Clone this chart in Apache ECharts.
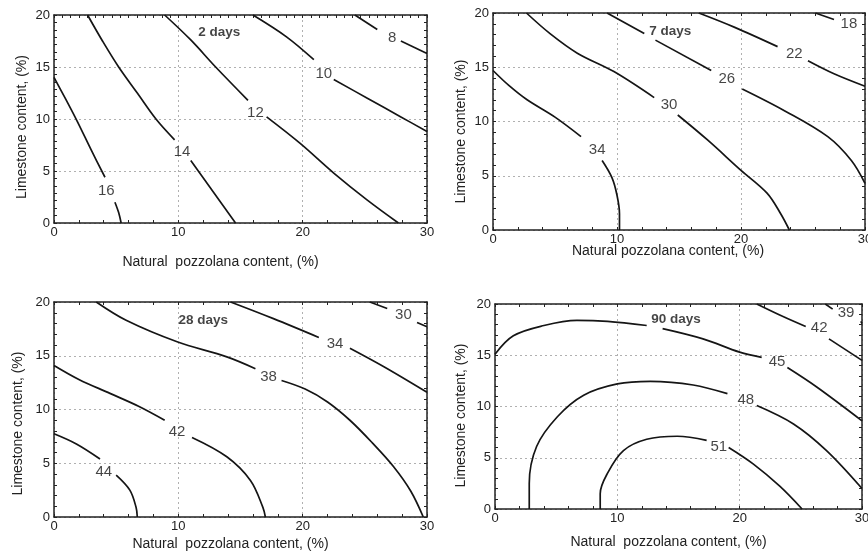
<!DOCTYPE html>
<html>
<head>
<meta charset="utf-8">
<script src="https://cdn.jsdelivr.net/npm/echarts@6/dist/echarts.min.js"></script>
<style>
html, body { margin: 0; padding: 0; background: #fff; }
#chart { width: 868px; height: 554px; }
</style>
</head>
<body>
<div id="chart"></div>
<script>
// axes: x = natural pozzolana content (%), y = limestone content (%)
const xTicks = [0, 10, 20, 30]
const yTicks = [0, 5, 10, 15, 20]
const panelTitles = ['2 days', '7 days', '28 days', '90 days']
const panelTitlePos = [[13.3, 18.3], [14.3, 18.3], [12.0, 18.3], [14.8, 18.5]]

// each contour is a list of pieces, broken where its label sits
const day2Levels = [16, 14, 12, 10, 8]
const day2Lines = [
  [[[0, 14], [0.9, 12], [1.9, 9.7], [3.0, 7.0], [4.1, 4.4]], [[4.9, 2.0], [5.2, 1.0], [5.4, 0]]],
  [[[2.7, 20], [3.9, 17.5], [5.2, 15], [6.7, 12.5], [8.2, 10], [9.7, 8.0]], [[11.0, 6.0], [12.8, 3.0], [14.6, 0]]],
  [[[8.9, 20], [11.0, 17.6], [13.0, 15.0], [15.6, 11.8]], [[17.1, 10.2], [19.8, 7.65], [22.5, 4.8], [25.2, 2.2], [27.7, 0]]],
  [[[16.0, 20], [18.7, 17.9], [20.9, 15.7]], [[22.5, 13.8], [25.2, 12.0], [27.9, 10.2], [30, 8.8]]],
  [[[24.2, 20], [26.0, 18.6]], [[27.9, 17.5], [30, 16.3]]]
]
const day2LabelAt = [[4.2, 3.1], [10.3, 6.8], [16.2, 10.6], [21.7, 14.3], [27.2, 17.8]]

const day7Levels = [34, 30, 26, 22, 18]
const day7Lines = [
  [[[0, 14.7], [1.3, 13.3], [2.75, 12.0], [5.0, 10.4], [7.1, 8.6]], [[8.8, 6.4], [9.6, 4.8], [10.0, 3.2], [10.2, 1.5], [10.2, 0]]],
  [[[2.7, 20], [4.6, 18.1], [6.8, 16.3], [9.75, 14.6], [13.0, 12.2]], [[14.9, 10.6], [17.3, 8.3], [20.0, 5.5], [22.1, 3.4], [23.2, 1.5], [23.9, 0]]],
  [[[9.2, 20], [12.2, 18.1]], [[13.1, 17.5], [17.6, 14.7]], [[20.1, 13.0], [23.5, 11.0], [27.0, 8.6], [28.9, 6.4], [30, 4.3]]],
  [[[16.6, 20], [19.45, 18.7], [22.95, 16.9]], [[25.4, 15.6], [27.5, 14.4], [30, 13.25]]],
  [[[26.0, 20], [27.5, 19.4]]]
]
const day7LabelAt = [[8.4, 7.4], [14.2, 11.5], [18.85, 13.9], [24.3, 16.2], [28.7, 19.0]]

const day28Levels = [44, 42, 38, 34, 30]
const day28Lines = [
  [[[0, 7.75], [1.8, 6.8], [3.7, 5.4]], [[5.0, 3.9], [6.1, 2.5], [6.6, 0.9], [6.7, 0]]],
  [[[0, 14.1], [2.0, 12.8], [4.5, 11.5], [6.8, 10.3], [8.9, 9.0]], [[11.1, 7.4], [13.9, 5.6], [15.8, 3.4], [16.8, 0.9], [17.0, 0]]],
  [[[3.4, 20], [5.8, 18.3], [9.9, 16.3], [13.9, 14.9], [16.2, 13.8]], [[18.3, 12.7], [20.2, 11.9], [22.0, 10.7], [23.8, 9.0], [25.6, 6.9], [27.3, 4.7], [28.7, 2.4], [29.7, 0]]],
  [[[14.2, 20], [17.65, 18.45], [21.3, 16.7]], [[23.8, 15.7], [26.5, 14.0], [30, 11.6]]],
  [[[25.4, 20], [26.8, 19.4]], [[29.2, 18.1], [30, 17.7]]]
]
const day28LabelAt = [[4.0, 4.2], [9.9, 7.9], [17.25, 13.0], [22.6, 16.1], [28.1, 18.85]]

const day90Levels = [51, 48, 45, 42, 39]
const day90Lines = [
  [[[8.6, 0], [8.6, 1.5], [9.2, 3.5], [10.5, 5.7], [12.4, 6.8], [14.9, 7.1], [17.3, 6.7]], [[19.1, 6.0], [21.1, 4.4], [23.3, 2.2], [25.1, 0]]],
  [[[2.8, 0], [2.8, 2.5], [3.4, 6.1], [5.1, 9.0], [7.25, 11.1], [10.0, 12.2], [12.7, 12.45], [16.2, 12.1], [19.0, 11.25]], [[21.4, 10.1], [24.4, 8.3], [27.1, 5.7], [30, 2.0]]],
  [[[0, 15.1], [1.5, 16.9], [4.0, 17.9], [6.7, 18.4], [9.2, 18.3], [12.4, 17.9]], [[13.7, 17.6], [17.0, 16.6], [20.0, 15.3], [21.8, 14.8]], [[23.9, 13.8], [26.3, 11.9], [30, 8.6]]],
  [[[21.4, 20], [23.5, 18.8], [25.4, 17.8]], [[27.3, 16.6], [30, 14.5]]],
  [[[27.0, 20], [27.6, 19.5]], [[29.9, 18.3], [30, 18.1]]]
]
const day90LabelAt = [[18.3, 6.1], [20.5, 10.6], [23.05, 14.4], [26.5, 17.7], [28.7, 19.1]]

const allLevels = [day2Levels, day7Levels, day28Levels, day90Levels]
const allLines = [day2Lines, day7Lines, day28Lines, day90Lines]
const allLabelAt = [day2LabelAt, day7LabelAt, day28LabelAt, day90LabelAt]

// layout of the four panels
const grids = [
  { left: 54, top: 15, width: 373, height: 208 },
  { left: 493, top: 13, width: 372, height: 217 },
  { left: 54, top: 302, width: 373, height: 215 },
  { left: 495, top: 304, width: 367, height: 205 }
]
const xNames = ['Natural  pozzolana content, (%)', 'Natural pozzolana content, (%)',
  'Natural  pozzolana content, (%)', 'Natural  pozzolana content, (%)']
const xNameGap = [32, 14, 20, 26]
const xNameShift = [40, 22, 20, 20]
const yNameGap = [25, 25, 29, 27]
const yNameShift = [16, 20, 28, 18]
const topMinor = [15, 5, 5, 5]
const leftMinor = [7, 5, 5, 5]

const font = 'Liberation Sans, Arial, sans-serif'
const frame = { show: true, onZero: false, lineStyle: { color: '#222', width: 1.5 } }
const dotted = { show: true, lineStyle: { color: '#b0b0b0', width: 1, type: [2, 3] } }

let xAxes = []
let yAxes = []
let series = []

grids.forEach((g, i) => {
  xAxes.push({
    gridIndex: i, type: 'value', position: 'bottom',
    min: xTicks[0], max: xTicks[xTicks.length - 1], interval: xTicks[1] - xTicks[0],
    name: xNames[i], nameLocation: 'middle', nameGap: xNameGap[i], nameMoveOverlap: false,
    nameTextStyle: { fontFamily: font, fontSize: 14, color: '#222', padding: [0, xNameShift[i], 0, 0] },
    axisLine: frame,
    axisTick: { inside: true, length: 3, lineStyle: { color: '#222' } },
    minorTick: { show: true, splitNumber: 5, length: 3, lineStyle: { color: '#222' } },
    splitLine: dotted,
    axisLabel: { fontFamily: font, fontSize: 13, color: '#222', margin: 3 }
  })
  xAxes.push({
    gridIndex: i, type: 'value', position: 'top',
    min: xTicks[0], max: xTicks[xTicks.length - 1], interval: xTicks[1] - xTicks[0],
    axisLine: frame,
    axisTick: { inside: true, length: 3, lineStyle: { color: '#222' } },
    minorTick: { show: true, splitNumber: topMinor[i], length: 3, lineStyle: { color: '#222' } },
    splitLine: { show: false },
    axisLabel: { show: false }
  })
  yAxes.push({
    gridIndex: i, type: 'value', position: 'left',
    min: yTicks[0], max: yTicks[yTicks.length - 1], interval: yTicks[1] - yTicks[0],
    name: 'Limestone content, (%)', nameLocation: 'middle', nameGap: yNameGap[i], nameMoveOverlap: false,
    nameTextStyle: { fontFamily: font, fontSize: 14, color: '#222', padding: [0, yNameShift[i], 0, 0] },
    axisLine: frame,
    axisTick: { inside: true, length: 3, lineStyle: { color: '#222' } },
    minorTick: { show: true, splitNumber: leftMinor[i], length: 3, lineStyle: { color: '#222' } },
    splitLine: dotted,
    axisLabel: { fontFamily: font, fontSize: 13, color: '#222', margin: 4 }
  })
  yAxes.push({
    gridIndex: i, type: 'value', position: 'right',
    min: yTicks[0], max: yTicks[yTicks.length - 1], interval: yTicks[1] - yTicks[0],
    axisLine: frame,
    axisTick: { inside: true, length: 3, lineStyle: { color: '#222' } },
    minorTick: { show: true, splitNumber: leftMinor[i], length: 3, lineStyle: { color: '#222' } },
    splitLine: { show: false },
    axisLabel: { show: false }
  })

  // contour pieces
  allLines[i].forEach(contour => {
    contour.forEach(piece => {
      series.push({
        type: 'line', xAxisIndex: 2 * i, yAxisIndex: 2 * i,
        data: piece, smooth: 0.35,
        showSymbol: false, silent: true,
        lineStyle: { color: '#151515', width: 1.7 }
      })
    })
  })

  // contour value labels
  series.push({
    type: 'scatter', xAxisIndex: 2 * i, yAxisIndex: 2 * i, silent: true,
    symbolSize: 1, itemStyle: { color: 'transparent' },
    data: allLabelAt[i].map((p, k) => [p[0], p[1], allLevels[i][k]]),
    label: {
      show: true, position: 'inside', formatter: p => p.data[2],
      fontFamily: font, fontSize: 15, color: '#151515'
    }
  })
  // panel title
  series.push({
    type: 'scatter', xAxisIndex: 2 * i, yAxisIndex: 2 * i, silent: true,
    symbolSize: 1, itemStyle: { color: 'transparent' },
    data: [[panelTitlePos[i][0], panelTitlePos[i][1], panelTitles[i]]],
    label: {
      show: true, position: 'inside', formatter: p => p.data[2],
      fontFamily: font, fontSize: 13.5, fontWeight: 'bold', color: '#151515'
    }
  })
})

let myChart = echarts.init(document.getElementById('chart'))
myChart.setOption({
  animation: false,
  backgroundColor: '#fff',
  grid: grids.map(g => Object.assign({ outerBoundsMode: 'none', containLabel: false }, g)),
  xAxis: xAxes,
  yAxis: yAxes,
  series: series
})
</script>
</body>
</html>
